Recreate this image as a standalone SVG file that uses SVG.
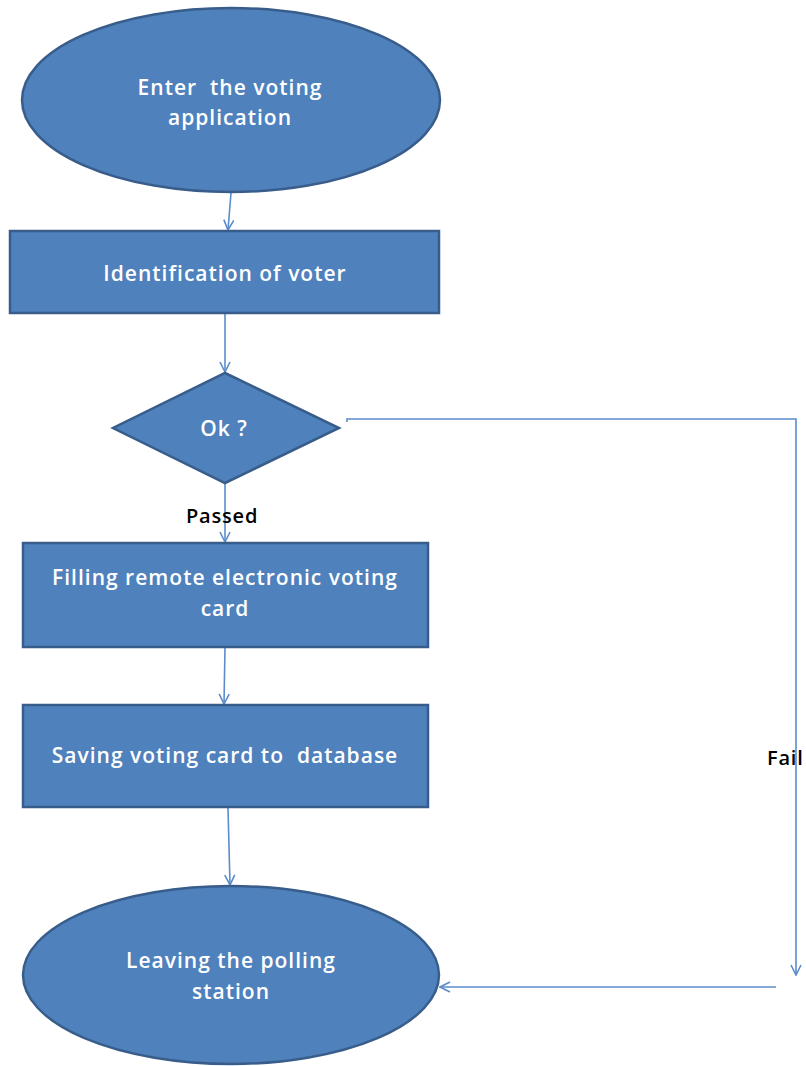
<svg xmlns="http://www.w3.org/2000/svg" width="806" height="1066" viewBox="0 0 806 1066">
<defs>
<marker id="arr" viewBox="0 0 12 12" refX="11" refY="6" markerWidth="12" markerHeight="12" markerUnits="userSpaceOnUse" orient="auto">
<path d="M1,1 L11,6 L1,11" fill="none" stroke="#5B8CCB" stroke-width="1.6"/>
</marker>
</defs>
<style>
.shape{fill:#4F81BD;stroke:#385D8A;stroke-width:2.5}
.t{fill:#FFFFFF;font-family:"Open Sans","Liberation Sans",sans-serif;font-weight:600;font-size:21px;letter-spacing:1px;text-anchor:middle;white-space:pre}
.lbl{fill:#000000;font-family:"Open Sans","Liberation Sans",sans-serif;font-weight:600;font-size:20px;letter-spacing:0.8px}
.c{fill:none;stroke:#5B8CCB;stroke-width:1.6;marker-end:url(#arr)}
</style>
<rect width="806" height="1066" fill="#FFFFFF"/>
<g id="connectors">
<line class="c" x1="231" y1="193" x2="228" y2="230"/>
<line class="c" x1="225" y1="314" x2="225" y2="372"/>
<line class="c" x1="225" y1="484" x2="225" y2="542"/>
<line class="c" x1="225" y1="648" x2="224" y2="704"/>
<line class="c" x1="228" y1="808" x2="230" y2="885"/>
<polyline class="c" points="347,422 347,419 796,419 796,975"/>
<line class="c" x1="776" y1="987" x2="440" y2="987"/>
</g>
<g id="label-passed"><text class="lbl" x="186" y="523">Passed</text></g>
<g id="label-fail"><text class="lbl" x="767" y="765">Fail</text></g>
<g id="n1">
<ellipse class="shape" cx="231" cy="100" rx="209" ry="92"/>
<text class="t" x="230" y="95" xml:space="preserve">Enter  the voting</text>
<text class="t" x="230" y="125">application</text>
</g>
<g id="n2">
<rect class="shape" x="10" y="231" width="429" height="82"/>
<text class="t" x="225" y="281">Identification of voter</text>
</g>
<g id="n3">
<polygon class="shape" points="225,373 339,428 225,483 113,428"/>
<text class="t" x="224" y="436">Ok ?</text>
</g>
<g id="n4">
<rect class="shape" x="23" y="543" width="405" height="104"/>
<text class="t" x="225" y="585">Filling remote electronic voting</text>
<text class="t" x="225" y="616">card</text>
</g>
<g id="n5">
<rect class="shape" x="23" y="705" width="405" height="102"/>
<text class="t" x="225" y="763" xml:space="preserve">Saving voting card to  database</text>
</g>
<g id="n6">
<ellipse class="shape" cx="231" cy="975" rx="208" ry="89"/>
<text class="t" x="231" y="968">Leaving the polling</text>
<text class="t" x="231" y="999">station</text>
</g>
</svg>
